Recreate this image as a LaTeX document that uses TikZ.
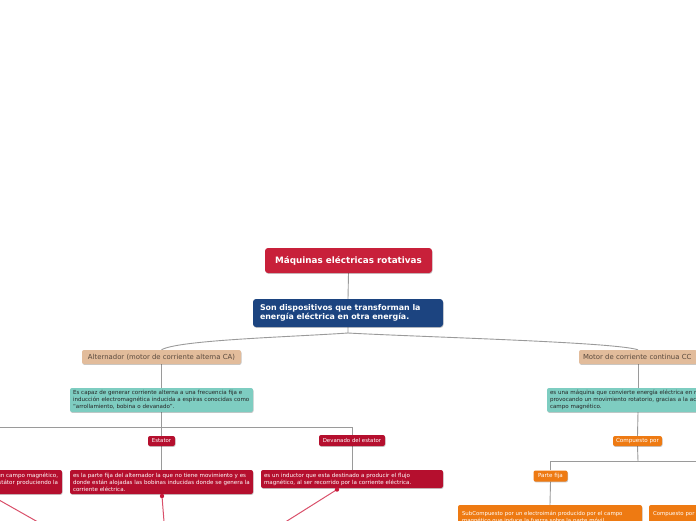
\documentclass[tikz,border=0pt]{standalone}
\usepackage{fontspec}
\setmainfont{DejaVu Sans}
\usetikzlibrary{shadows,backgrounds}
\definecolor{titlered}{HTML}{C8203A}
\definecolor{navy}{HTML}{1C4480}
\definecolor{tan}{HTML}{E2BC9B}
\definecolor{tanText}{HTML}{5A4A3E}
\definecolor{teal}{HTML}{7ECDC1}
\definecolor{crimson}{HTML}{B50F2E}
\definecolor{orangebox}{HTML}{EE7A12}
\definecolor{graylink}{HTML}{9A9A9A}
\definecolor{redlink}{HTML}{D9506A}
\definecolor{reddot}{HTML}{C8183A}
\tikzset{
  box/.style={rectangle, rounded corners=2pt, inner sep=0pt,
    drop shadow={shadow xshift=0.5pt, shadow yshift=-0.9pt, opacity=0.22, fill=black}},
  titlebox/.style={box, fill=titlered, text=white, rounded corners=3pt,
    font=\fontsize{8.8}{10}\selectfont\bfseries},
  bluebox/.style={box, fill=navy, text=white, rounded corners=3pt,
    font=\fontsize{7.9}{9}\selectfont\bfseries, align=left},
  tanbox/.style={box, fill=tan, text=tanText, font=\fontsize{6.9}{8}\selectfont},
  tealbox/.style={box, fill=teal, text=black!85, font=\fontsize{5.55}{7}\selectfont, align=left},
  redsmall/.style={box, fill=crimson, text=white, font=\fontsize{5.4}{6}\selectfont},
  reddesc/.style={box, fill=crimson, text=white, font=\fontsize{5.55}{7}\selectfont, align=left},
  orsmall/.style={box, fill=orangebox, text=white, font=\fontsize{5.6}{6}\selectfont},
  ordesc/.style={box, fill=orangebox, text=white, font=\fontsize{5.4}{7}\selectfont, align=left},
  glink/.style={draw=graylink, line width=0.9pt},
  rlink/.style={draw=redlink, line width=1pt},
  rdot/.style={fill=reddot}
}
\begin{document}
\begin{tikzpicture}[x=1pt,y=-1pt]
\useasboundingbox (0,0) rectangle (696,520);
\clip (0,0) rectangle (696,520);

% main nodes
\node[titlebox, minimum width=167pt, minimum height=25pt] (title) at (348.5,260.5) {Máquinas eléctricas rotativas};
\node[bluebox, text width=176pt, inner xsep=7pt, minimum height=28pt] (def) at (348,313)
  {Son dispositivos que transforman la\\energía eléctrica en otra energía.};

\node[tanbox, minimum width=159pt, minimum height=14pt] (alt) at (161.5,357) {Alternador (motor de corriente alterna CA)};
\node[tanbox, minimum width=118pt, minimum height=14pt, text width=110pt, inner xsep=4pt, align=left] (mot) at (638,357) {Motor de corriente continua CC};

\node[tealbox, text width=177pt, inner xsep=3pt, minimum height=24pt] (altdef) at (161.5,400)
  {\mbox{Es capaz de generar corriente alterna a una frecuencia fija e}\\\mbox{inducción electromagnética inducida a espiras conocidas como}\\“arrollamiento, bobina o devanado”.};
\node[tealbox, text width=182pt, inner xsep=3pt, minimum height=24pt] (motdef) at (641,400)
  {\mbox{es una máquina que convierte energía eléctrica en mecánica,}\\\mbox{provocando un movimiento rotatorio, gracias a la acción del}\\campo magnético.};

% alternator branch
\node[redsmall, minimum width=27pt, minimum height=10pt] (est) at (161.5,441) {Estator};
\node[redsmall, minimum width=66pt, minimum height=11pt] (dev) at (352,440.5) {Devanado del estator};
\node[reddesc, text width=177pt, inner xsep=3pt, minimum height=24pt] (estdef) at (161.5,482)
  {\mbox{es la parte fija del alternador la que no tiene movimiento y es}\\\mbox{donde están alojadas las bobinas inducidas donde se genera la}\\corriente eléctrica.};
\node[reddesc, text width=176pt, inner xsep=3pt, minimum height=18pt] (devdef) at (352,479)
  {es un inductor que esta destinado a producir el flujo\\magnético, al ser recorrido por la corriente eléctrica.};
\node[reddesc, text width=175pt, inner xsep=4pt, minimum height=24pt, align=right] (rotdef) at (-29.5,482)
  {es la parte giratoria que produce un campo magnético,\\el cual gira dentro del estátor produciendo la\\\mbox{}};

% motor branch
\node[orsmall, minimum width=49pt, minimum height=10pt] (comp) at (637.5,441) {Compuesto por};
\node[orsmall, minimum width=34pt, minimum height=11pt] (fija) at (550.5,476) {Parte fija};
\node[ordesc, text width=176pt, inner xsep=4pt, minimum height=24pt] (sub) at (550,517)
  {SubCompuesto por un electroimán producido por el campo\\magnético que induce la fuerza sobre la parte móvil.};
\node[ordesc, text width=176pt, inner xsep=4pt, minimum height=24pt] (comp2) at (741,517)
  {Compuesto por\\\mbox{}};

% free ends
\coordinate (bj) at (348,333);
\coordinate (ja) at (161.5,427);
\coordinate (jl) at (-29.5,427);
\coordinate (jd) at (352,427);
\coordinate (jm) at (638,461);
\coordinate (jf) at (550.5,461);
\coordinate (jr) at (726,461);
\coordinate (d1) at (162,496);
\coordinate (d2) at (337,489.5);
\coordinate (d0) at (-8,496);
\coordinate (e1) at (167,560);
\coordinate (e2) at (225,560);
\coordinate (e0) at (105,560);

\begin{scope}[on background layer]
\draw[glink] (title.south) -- (def.north);
\draw[glink] (def.south) -- (bj) .. controls (290,337) and (178,340) .. (alt.north);
\draw[glink] (bj) .. controls (420,337) and (615,342) .. (mot.north);
\draw[glink] (alt.south) -- (altdef.north);
\draw[glink] (mot.south) -- (638,388);
\draw[glink] (altdef.south) -- (ja);
\draw[glink] (jl) -- (jd) -- (dev.north);
\draw[glink] (ja) -- (est.north);
\draw[glink] (est.south) -- (estdef.north);
\draw[glink] (dev.south) -- (devdef.north);
\draw[glink] (638,412) -- (comp.north);
\draw[glink] (comp.south) -- (jm);
\draw[glink] (jf) -- (jr);
\draw[glink] (jf) -- (fija.north);
\draw[glink] (fija.south) -- (sub.north);
\end{scope}

% red relation links
\draw[rlink] (d1) -- (e1);
\draw[rlink] (d2) -- (e2);
\draw[rlink] (d0) -- (e0);
\fill[rdot] (d1) circle (2.2pt);
\fill[rdot] (d2) circle (2.2pt);
\fill[rdot] (d0) circle (2.2pt);
\end{tikzpicture}
\end{document}
